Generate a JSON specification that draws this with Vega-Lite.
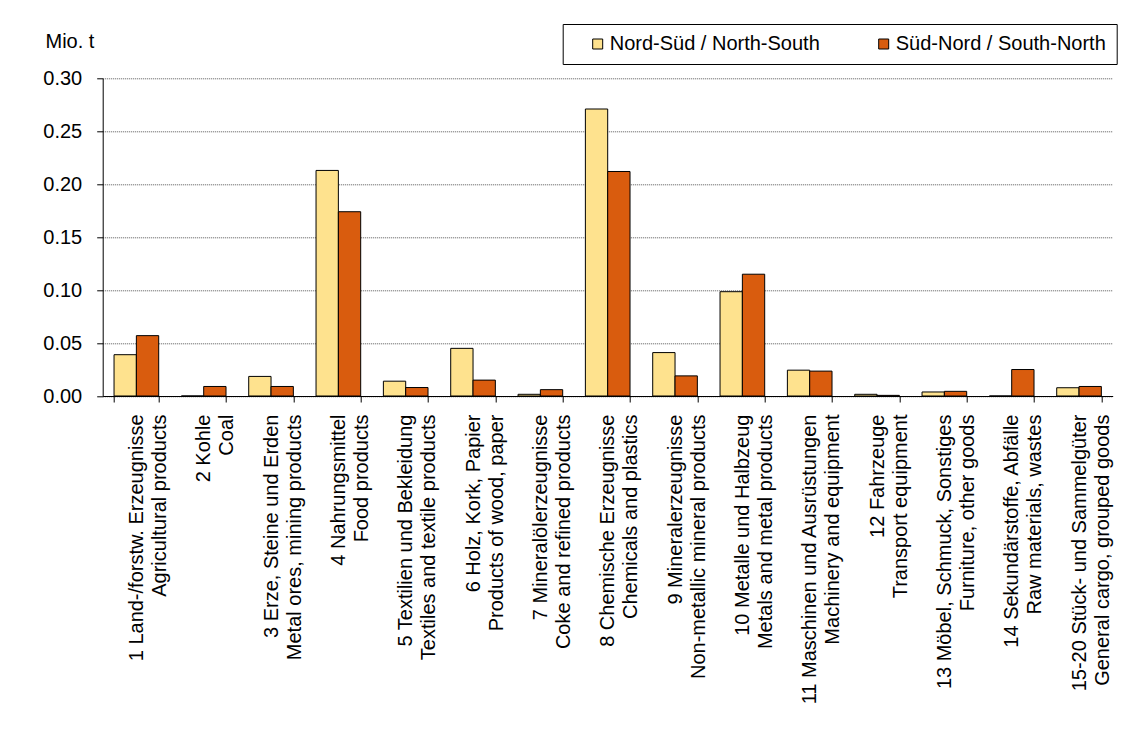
{
  "$schema": "https://vega.github.io/schema/vega-lite/v6.json",
  "width": 1010,
  "height": 317.7,
  "autosize": {"type": "none"},
  "padding": {"left": 102.7, "top": 78.3, "right": 19.3, "bottom": 351},
  "background": "white",
  "config": {
    "font": "Liberation Sans",
    "view": {"stroke": null},
    "axis": {"labelColor": "black", "titleColor": "black", "domainColor": "black", "tickColor": "black", "labelFont": "Liberation Sans", "titleFont": "Liberation Sans"},
    "legend": {"labelFont": "Liberation Sans"}
  },
  "data": {
    "values": [
      {"category": "1 Land-/forstw. Erzeugnisse|Agricultural products", "series": "Nord-Süd / North-South", "value": 0.039},
      {"category": "1 Land-/forstw. Erzeugnisse|Agricultural products", "series": "Süd-Nord / South-North", "value": 0.057},
      {"category": "2 Kohle|Coal", "series": "Nord-Süd / North-South", "value": 0},
      {"category": "2 Kohle|Coal", "series": "Süd-Nord / South-North", "value": 0.009},
      {"category": "3 Erze, Steine und Erden|Metal ores, mining products", "series": "Nord-Süd / North-South", "value": 0.0185},
      {"category": "3 Erze, Steine und Erden|Metal ores, mining products", "series": "Süd-Nord / South-North", "value": 0.009},
      {"category": "4 Nahrungsmittel|Food products", "series": "Nord-Süd / North-South", "value": 0.213},
      {"category": "4 Nahrungsmittel|Food products", "series": "Süd-Nord / South-North", "value": 0.174},
      {"category": "5 Textilien und Bekleidung|Textiles and textile products", "series": "Nord-Süd / North-South", "value": 0.014},
      {"category": "5 Textilien und Bekleidung|Textiles and textile products", "series": "Süd-Nord / South-North", "value": 0.008},
      {"category": "6 Holz, Kork, Papier|Products of wood, paper", "series": "Nord-Süd / North-South", "value": 0.045},
      {"category": "6 Holz, Kork, Papier|Products of wood, paper", "series": "Süd-Nord / South-North", "value": 0.015},
      {"category": "7 Mineralölerzeugnisse|Coke and refined products", "series": "Nord-Süd / North-South", "value": 0.0016},
      {"category": "7 Mineralölerzeugnisse|Coke and refined products", "series": "Süd-Nord / South-North", "value": 0.006},
      {"category": "8 Chemische Erzeugnisse|Chemicals and plastics", "series": "Nord-Süd / North-South", "value": 0.271},
      {"category": "8 Chemische Erzeugnisse|Chemicals and plastics", "series": "Süd-Nord / South-North", "value": 0.212},
      {"category": "9 Mineralerzeugnisse|Non-metallic mineral products", "series": "Nord-Süd / North-South", "value": 0.041},
      {"category": "9 Mineralerzeugnisse|Non-metallic mineral products", "series": "Süd-Nord / South-North", "value": 0.019},
      {"category": "10 Metalle und Halbzeug|Metals and metal products", "series": "Nord-Süd / North-South", "value": 0.0985},
      {"category": "10 Metalle und Halbzeug|Metals and metal products", "series": "Süd-Nord / South-North", "value": 0.115},
      {"category": "11 Maschinen und Ausrüstungen|Machinery and equipment", "series": "Nord-Süd / North-South", "value": 0.0244},
      {"category": "11 Maschinen und Ausrüstungen|Machinery and equipment", "series": "Süd-Nord / South-North", "value": 0.0235},
      {"category": "12 Fahrzeuge|Transport equipment", "series": "Nord-Süd / North-South", "value": 0.0016},
      {"category": "12 Fahrzeuge|Transport equipment", "series": "Süd-Nord / South-North", "value": 0.0006},
      {"category": "13 Möbel, Schmuck, Sonstiges|Furniture, other goods", "series": "Nord-Süd / North-South", "value": 0.0038},
      {"category": "13 Möbel, Schmuck, Sonstiges|Furniture, other goods", "series": "Süd-Nord / South-North", "value": 0.0044},
      {"category": "14 Sekundärstoffe, Abfälle|Raw materials, wastes", "series": "Nord-Süd / North-South", "value": 0},
      {"category": "14 Sekundärstoffe, Abfälle|Raw materials, wastes", "series": "Süd-Nord / South-North", "value": 0.025},
      {"category": "15-20 Stück- und Sammelgüter|General cargo, grouped goods", "series": "Nord-Süd / North-South", "value": 0.0078},
      {"category": "15-20 Stück- und Sammelgüter|General cargo, grouped goods", "series": "Süd-Nord / South-North", "value": 0.009}
    ]
  },
  "mark": {"type": "bar", "stroke": "black", "strokeWidth": 1},
  "encoding": {
    "x": {
      "field": "category",
      "type": "nominal",
      "sort": null,
      "scale": {"paddingInner": 0.337, "paddingOuter": 0.1685},
      "axis": {
        "title": null,
        "labelAngle": -90,
        "labelAlign": "right",
        "labelBaseline": "middle",
        "labelExpr": "split(datum.label, '|')",
        "labelLineHeight": 23,
        "labelFontSize": 20,
        "labelPadding": 12,
        "labelLimit": 500,
        "labelOverlap": false,
        "tickBand": "extent",
        "tickSize": 6,
        "grid": false
      }
    },
    "xOffset": {"field": "series", "type": "nominal", "sort": ["Nord-Süd / North-South", "Süd-Nord / South-North"]},
    "y": {
      "field": "value",
      "type": "quantitative",
      "scale": {"domain": [0, 0.3], "nice": false},
      "axis": {
        "values": [0, 0.05, 0.1, 0.15, 0.2, 0.25, 0.3],
        "format": ".2f",
        "title": "Mio. t",
        "titleAngle": 0,
        "titleX": -57.7,
        "titleY": -30.6,
        "titleAlign": "left",
        "titleBaseline": "alphabetic",
        "titleFontSize": 20,
        "titleFontWeight": "normal",
        "labelFontSize": 20,
        "labelPadding": 15,
        "tickSize": 6,
        "grid": true,
        "gridColor": "#555555",
        "gridDash": [1, 1],
        "gridWidth": 1
      }
    },
    "color": {
      "field": "series",
      "type": "nominal",
      "scale": {"domain": ["Nord-Süd / North-South", "Süd-Nord / South-North"], "range": ["#FEE28E", "#D95C0E"]},
      "legend": {
        "orient": "none",
        "legendX": 460,
        "legendY": -54.3,
        "direction": "horizontal",
        "title": null,
        "strokeColor": "black",
        "fillColor": "white",
        "padding": 10,
        "symbolType": "square",
        "symbolSize": 100,
        "symbolStrokeColor": "black",
        "symbolStrokeWidth": 1,
        "symbolOffset": 15,
        "labelFontSize": 20,
        "labelColor": "black",
        "labelOffset": 2,
        "columnPadding": 38,
        "labelLimit": 500
      }
    }
  }
}
